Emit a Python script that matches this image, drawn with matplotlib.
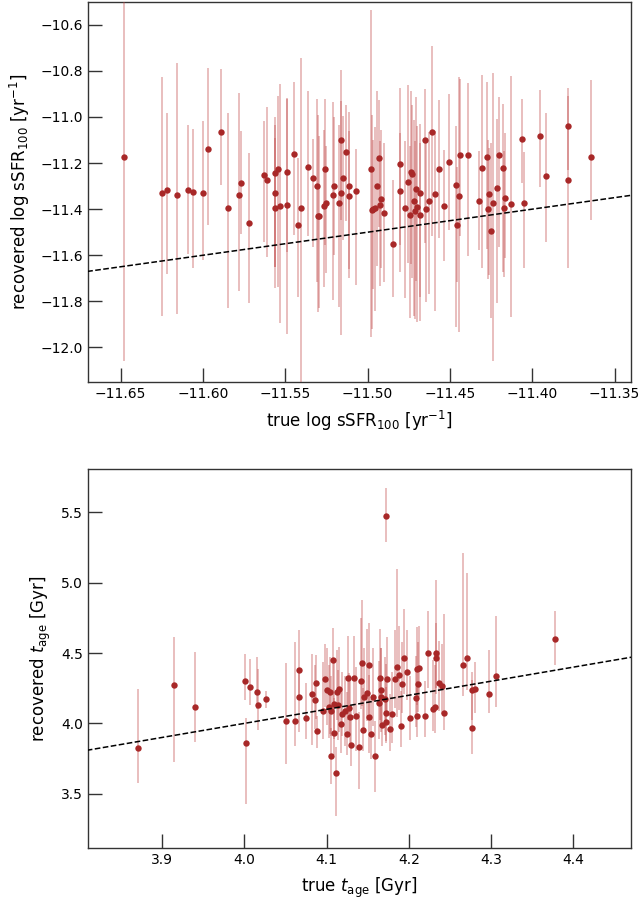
import numpy as np
import matplotlib
matplotlib.use("Agg")
import matplotlib.pyplot as plt

# ---------------- top panel: sSFR ----------------
ssfr_true = [-11.648, -11.625, -11.622, -11.616, -11.609, -11.606, -11.600, -11.597, -11.589, -11.585,
             -11.578, -11.577, -11.572, -11.563, -11.561,
             -11.556, -11.5547, -11.556, -11.5565, -11.5533, -11.5487, -11.5489, -11.5448, -11.5424, -11.5402,
             -11.5359, -11.5329, -11.5307, -11.5299, -11.5292, -11.5260, -11.5264, -11.5252, -11.5212, -11.5206,
             -11.5175, -11.5159, -11.5159, -11.5147, -11.5131, -11.5115, -11.5110, -11.5072,
             -11.4981, -11.4975, -11.4965, -11.4953, -11.4943, -11.4930, -11.4920, -11.4922, -11.4902, -11.4847,
             -11.4805, -11.4803, -11.4773, -11.4752, -11.4738, -11.4728, -11.4742, -11.4720, -11.4704, -11.4712,
             -11.4700, -11.4680, -11.4682, -11.4653, -11.4643, -11.4627, -11.4609, -11.4589, -11.4568, -11.4536,
             -11.4504, -11.4463, -11.4447, -11.4459, -11.4439, -11.4388, -11.4326, -11.4305, -11.4277, -11.4263,
             -11.4269, -11.4249, -11.4238, -11.4216, -11.4204, -11.4180, -11.4164, -11.4170, -11.4127, -11.4061,
             -11.4052, -11.3955, -11.3919, -11.3785, -11.3785, -11.3640]
ssfr_rec = [-11.173, -11.328, -11.315, -11.337, -11.318, -11.327, -11.328, -11.141, -11.065, -11.396,
            -11.340, -11.285, -11.461, -11.251, -11.273,
            -11.241, -11.224, -11.331, -11.393, -11.385, -11.237, -11.380, -11.160, -11.467, -11.393,
            -11.217, -11.265, -11.298, -11.428, -11.431, -11.224, -11.388, -11.375, -11.337, -11.299,
            -11.372, -11.098, -11.330, -11.265, -11.152, -11.298, -11.341, -11.322,
            -11.225, -11.402, -11.398, -11.393, -11.298, -11.178, -11.357, -11.383, -11.415, -11.550,
            -11.205, -11.321, -11.396, -11.282, -11.238, -11.248, -11.424, -11.363, -11.312, -11.406,
            -11.389, -11.331, -11.424, -11.099, -11.401, -11.366, -11.066, -11.333, -11.225, -11.385,
            -11.195, -11.295, -11.341, -11.467, -11.166, -11.165, -11.364, -11.221, -11.175, -11.335,
            -11.401, -11.493, -11.373, -11.307, -11.165, -11.222, -11.351, -11.396, -11.377, -11.095,
            -11.372, -11.081, -11.254, -11.040, -11.273, -11.173]
ssfr_err_lo = [0.885, 0.537, 0.366, 0.518, 0.278, 0.327, 0.293, 0.329, 0.229, 0.433,
               0.414, 0.224, 0.345, 0.290, 0.336,
               0.409, 0.512, 0.320, 0.350, 0.510, 0.350, 0.560, 0.350, 0.313, 0.760,
               0.300, 0.300, 0.420, 0.417, 0.400, 0.330, 0.350, 0.300, 0.457, 0.300,
               0.451, 0.350, 0.616, 0.270, 0.300, 0.400, 0.320, 0.407,
               0.729, 0.520, 0.350, 0.450, 0.350, 0.300, 0.300, 0.350, 0.300, 0.230,
               0.350, 0.350, 0.390, 0.350, 0.400, 0.450, 0.450, 0.500, 0.400, 0.470,
               0.500, 0.450, 0.460, 0.450, 0.400, 0.400, 0.450, 0.510, 0.300, 0.240,
               0.295, 0.615, 0.591, 0.250, 0.350, 0.438, 0.213, 0.436, 0.400, 0.350,
               0.300, 0.380, 0.685, 0.500, 0.400, 0.450, 0.260, 0.300, 0.490, 0.190,
               0.282, 0.221, 0.287, 0.190, 0.384, 0.274]
ssfr_err_hi = [0.720, 0.502, 0.331, 0.571, 0.284, 0.277, 0.311, 0.353, 0.273, 0.415,
               0.443, 0.222, 0.305, 0.234, 0.318,
               0.243, 0.313, 0.297, 0.300, 0.530, 0.320, 0.460, 0.310, 0.288, 0.648,
               0.330, 0.170, 0.377, 0.437, 0.350, 0.300, 0.330, 0.250, 0.400, 0.300,
               0.338, 0.300, 0.400, 0.270, 0.205, 0.321, 0.280, 0.182,
               0.690, 0.410, 0.300, 0.350, 0.410, 0.250, 0.300, 0.280, 0.300, 0.277,
               0.330, 0.250, 0.290, 0.420, 0.350, 0.300, 0.300, 0.350, 0.400, 0.300,
               0.350, 0.300, 0.310, 0.220, 0.300, 0.300, 0.375, 0.270, 0.300, 0.240,
               0.295, 0.256, 0.514, 0.250, 0.330, 0.312, 0.218, 0.404, 0.325, 0.200,
               0.300, 0.380, 0.563, 0.300, 0.250, 0.279, 0.280, 0.250, 0.553, 0.174,
               0.222, 0.196, 0.273, 0.165, 0.362, 0.334]

# ---------------- bottom panel: t_age ----------------
tage_true = [3.8704, 3.9145, 3.9397, 4.0008, 4.0021, 4.0065, 4.0159, 4.0171, 4.0268,
             4.0511, 4.0620, 4.0661, 4.0661, 4.0754, 4.0819, 4.0859, 4.0871, 4.0888, 4.0953,
             4.0985, 4.1009, 4.1025, 4.1046, 4.1050, 4.1054, 4.1074, 4.1086, 4.1090, 4.1115,
             4.1123, 4.1143, 4.1155, 4.1171, 4.1187, 4.1220, 4.1244, 4.1256, 4.1268, 4.1285,
             4.1301, 4.1333, 4.1358, 4.1390, 4.1414, 4.1435, 4.1439, 4.1459, 4.1487, 4.1512,
             4.1520, 4.1540, 4.1569, 4.1585, 4.1641, 4.1649, 4.1662, 4.1666, 4.1674, 4.1714,
             4.1722, 4.1722, 4.1734, 4.1722, 4.1771, 4.1791, 4.1832, 4.1856, 4.1885, 4.1901,
             4.1913, 4.1945, 4.1982, 4.2014, 4.2087, 4.2095, 4.2099, 4.2111, 4.2127, 4.2200,
             4.2233, 4.2298, 4.2314, 4.2330, 4.2326, 4.2371, 4.2403, 4.2432,
             4.2654, 4.2703, 4.2772, 4.2772, 4.2808, 4.2974, 4.3055, 4.3781]
tage_rec = [3.8245, 4.2746, 4.1159, 4.2983, 3.8600, 4.2581, 4.2249, 4.1301, 4.1752,
            4.0164, 4.0164, 4.3813, 4.1847, 4.0401, 4.2060, 4.1633, 4.2841, 3.9453, 4.0899,
            4.3149, 4.2368, 4.1183, 4.2249, 4.0899, 3.7700, 4.4500, 3.9288, 4.1373, 3.6445,
            4.2249, 4.1301, 4.2415, 3.9927, 4.0638, 4.0899, 3.9240, 4.3244, 4.1064, 4.0472,
            3.8458, 4.3196, 4.0543, 3.8340, 4.3006, 4.4263, 3.9524, 4.1894, 4.2178, 4.4144,
            4.0424, 3.9240, 4.1847, 3.7653, 4.1420, 4.3244, 4.2368, 4.1847, 3.9880, 4.1704,
            5.4758, 4.0757, 4.3125, 4.0117, 3.9572, 4.0638, 4.3125, 4.3978, 4.3433, 3.9832,
            4.2770, 4.4618, 4.3670, 4.0353, 4.1775, 4.3836, 4.0543, 4.2794, 4.3907, 4.0543,
            4.5020, 4.0993, 4.1135, 4.5020, 4.4618, 4.2888, 4.2651, 4.0709,
            4.4120, 4.4641, 4.2368, 3.9690, 4.2463, 4.2060, 4.3386, 4.6016]
tage_err_lo = [0.251, 0.547, 0.247, 0.132, 0.433, 0.128, 0.120, 0.178, 0.068,
               0.305, 0.180, 0.200, 0.245, 0.150, 0.360, 0.200, 0.250, 0.120, 0.200,
               0.200, 0.250, 0.220, 0.300, 0.180, 0.200, 0.350, 0.150, 0.250, 0.300,
               0.200, 0.250, 0.300, 0.200, 0.150, 0.250, 0.150, 0.300, 0.200, 0.200,
               0.150, 0.250, 0.250, 0.300, 0.200, 0.300, 0.150, 0.250, 0.200, 0.350,
               0.250, 0.180, 0.200, 0.250, 0.250, 0.300, 0.300, 0.200, 0.150, 0.250,
               0.185, 0.200, 0.250, 0.150, 0.150, 0.200, 0.200, 0.350, 0.250, 0.150,
               0.200, 0.250, 0.200, 0.150, 0.200, 0.250, 0.150, 0.200, 0.200, 0.150,
               0.250, 0.150, 0.180, 0.250, 0.250, 0.200, 0.200, 0.118,
               0.216, 0.227, 0.210, 0.189, 0.175, 0.135, 0.220, 0.190]
tage_err_hi = [0.417, 0.341, 0.393, 0.194, 0.180, 0.197, 0.250, 0.260, 0.055,
               0.410, 0.560, 0.280, 0.200, 0.250, 0.290, 0.250, 0.200, 0.110, 0.350,
               0.250, 0.300, 0.300, 0.250, 0.250, 0.200, 0.225, 0.250, 0.300, 0.190,
               0.300, 0.250, 0.300, 0.250, 0.300, 0.250, 0.300, 0.300, 0.250, 0.300,
               0.250, 0.300, 0.350, 0.250, 0.450, 0.450, 0.300, 0.350, 0.450, 0.300,
               0.300, 0.250, 0.350, 0.250, 0.300, 0.350, 0.300, 0.350, 0.250, 0.300,
               0.199, 0.350, 0.300, 0.250, 0.250, 0.300, 0.350, 0.700, 0.350, 0.250,
               0.300, 0.350, 0.300, 0.300, 0.300, 0.300, 0.250, 0.300, 0.300, 0.250,
               0.300, 0.350, 0.300, 0.520, 0.250, 0.300, 0.300, 0.710,
               0.796, 0.602, 0.125, 0.339, 0.190, 0.315, 0.424, 0.200]

ssfr_xlim = (-11.670, -11.340)
ssfr_ylim = (-12.150, -10.501)
tage_xlim = (3.8097, 4.470)
tage_ylim = (3.112, 5.806)

MARKER = "#a82828"
ECOL = "#c04848"

fig = plt.figure(figsize=(6.39, 9.02), dpi=100)
ax1 = fig.add_axes([0.1372, 0.5765, 0.8503, 0.4213])
ax2 = fig.add_axes([0.1372, 0.0595, 0.8503, 0.4202])


def panel(ax, xt, yr, elo, ehi, xlim, ylim):
    ax.errorbar(xt, yr, yerr=[elo, ehi], fmt="o", color=MARKER, ms=4.6,
                ecolor=ECOL, elinewidth=1.1, alpha=1.0, capsize=0, zorder=3,
                markeredgewidth=0)
    # make error bars translucent
    for coll in ax.collections:
        coll.set_alpha(0.45)
    lo = min(xlim[0], ylim[0]) - 1
    hi = max(xlim[1], ylim[1]) + 1
    ax.plot([lo, hi], [lo, hi], ls="--", color="k", lw=1.1, zorder=4)
    ax.set_xlim(*xlim)
    ax.set_ylim(*ylim)
    ax.tick_params(axis="both", direction="in", length=10, width=1, labelsize=10,
                   top=False, right=False, color="#333333")
    for s in ax.spines.values():
        s.set_linewidth(1.0)
        s.set_color("#333333")


panel(ax1, ssfr_true, ssfr_rec, ssfr_err_lo, ssfr_err_hi, ssfr_xlim, ssfr_ylim)
ax1.set_xticks([-11.65, -11.60, -11.55, -11.50, -11.45, -11.40, -11.35])
ax1.set_yticks([-12.0, -11.8, -11.6, -11.4, -11.2, -11.0, -10.8, -10.6])
ax1.set_xlabel(r"true log sSFR$_{100}$ [yr$^{-1}$]", fontsize=12, labelpad=6)
ax1.set_ylabel(r"recovered log sSFR$_{100}$ [yr$^{-1}$]", fontsize=12, labelpad=6)

panel(ax2, tage_true, tage_rec, tage_err_lo, tage_err_hi, tage_xlim, tage_ylim)
ax2.set_xticks([3.9, 4.0, 4.1, 4.2, 4.3, 4.4])
ax2.set_yticks([3.5, 4.0, 4.5, 5.0, 5.5])
ax2.set_xlabel(r"true $t_{\rm age}$ [Gyr]", fontsize=12, labelpad=6)
ax2.set_ylabel(r"recovered $t_{\rm age}$ [Gyr]", fontsize=12, labelpad=6)

fig.savefig("out.png", dpi=100)
